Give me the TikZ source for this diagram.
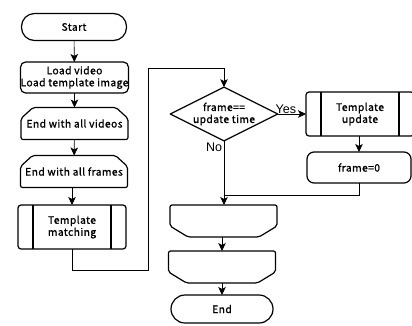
\documentclass[tikz,border=0pt]{standalone}
\usepackage{fontspec}
\newfontfamily\jpfont{Noto Sans CJK JP}[FakeBold=1.2,LetterSpace=4]
\setsansfont{Liberation Sans}
\usetikzlibrary{positioning,arrows.meta,shapes.geometric}

\begin{document}
\begin{tikzpicture}[x=1pt,y=-1pt,>={Stealth[length=8pt,width=7.5pt,inset=2pt]},
                    line width=0.6pt,
                    every node/.style={font=\jpfont\fontsize{10.3}{12}\selectfont,align=center,inner sep=0pt,outer sep=0pt},
                    outline/.style={line width=1.2pt,line join=round},
                    terminal/.style={outline,draw,rounded corners=13pt,minimum width=105pt,minimum height=27pt},
                    process/.style={outline,draw,rounded corners=5pt,minimum width=107pt,minimum height=31pt},
                    subproc/.style={outline,draw,rounded corners=3pt,minimum width=108pt,minimum height=44pt,
                        path picture={\draw[outline] ([xshift=15pt]path picture bounding box.north west) -- ([xshift=15pt]path picture bounding box.south west)
                                                     ([xshift=-15pt]path picture bounding box.north east) -- ([xshift=-15pt]path picture bounding box.south east);}},
                    loopbox/.style={minimum width=107pt,minimum height=32pt},
                    decision/.style={outline,draw,diamond,aspect=2,minimum width=107pt,minimum height=52pt},
                    answer/.style={font=\sffamily\fontsize{12.5}{14}\selectfont},
                    flow/.style={->},
                ]
  \useasboundingbox (0,0) rectangle (412,325);

  % left column
  \node[terminal] (start)  at (74,27)    {Start};
  \node[process]  (load)   at (74.5,77.5) {Load video\\Load template image};
  \node[loopbox]  (videos) at (74.5,123.5) {End with all videos};
  \node[loopbox]  (frames) at (74,171.5)   {End with all frames};
  \node[subproc]  (match)  at (72,227)     {Template\\matching};

  % right column
  \node[decision] (check)  at (224,114)   {frame==\\update time};
  \node[subproc]  (update) at (360,114)   {Template\\update};
  \node[process,minimum width=104pt,rounded corners=7pt] (zero) at (359,167.5) {frame=0};
  \node[loopbox]  (endA)   at (223.5,221) {};
  \node[loopbox]  (endB)   at (222,267)   {};
  \node[terminal,minimum width=102pt,minimum height=28pt,rounded corners=14pt] (stop) at (222,309) {End};

  % loop limit outlines
  \foreach \n in {videos,frames}
    \draw[outline,rounded corners=2pt] ([yshift=-11pt]\n.north west) -- ([xshift=12pt]\n.north west)
          -- ([xshift=-12pt]\n.north east) -- ([yshift=-11pt]\n.north east)
          -- (\n.south east) -- (\n.south west) -- cycle;
  \foreach \n in {endA,endB}
    \draw[outline,rounded corners=2pt] ([yshift=11pt]\n.south west) -- ([xshift=18pt]\n.south west)
          -- ([xshift=-18pt]\n.south east) -- ([yshift=11pt]\n.south east)
          -- (\n.north east) -- (\n.north west) -- cycle;

  \coordinate (c1) at (72,270);
  \coordinate (c2) at (148,270);
  \coordinate (c3) at (148,68);
  \coordinate (c4) at (224,68);
  \coordinate (merge) at (224,195);

  \path (start)  edge[flow] (load)
        (load)   edge[flow] (videos)
        (videos) edge[flow] (frames)
        (frames.south -| match) edge[flow] (match)
        (update.south -| zero) edge[flow] (zero)
        (check)  edge[flow] (update)
        (check)  edge[flow] (endA.north -| check)
        (endA.south -| endB) edge[flow] (endB)
        (endB)   edge[flow] (stop)
        ;
  \draw[flow] (match) -- (c1) -- (c2) -- (c3) -- (c4) -- (check);
  \draw (zero) -- (zero.south |- merge) -- (merge);

  \node[answer,anchor=south west] (yes) at ([xshift=-2pt,yshift=0pt]check.east) {Yes};
  \node[answer,anchor=north east] (no)  at ([xshift=-2pt,yshift=-2pt]check.south) {No};
\end{tikzpicture}
\end{document}
